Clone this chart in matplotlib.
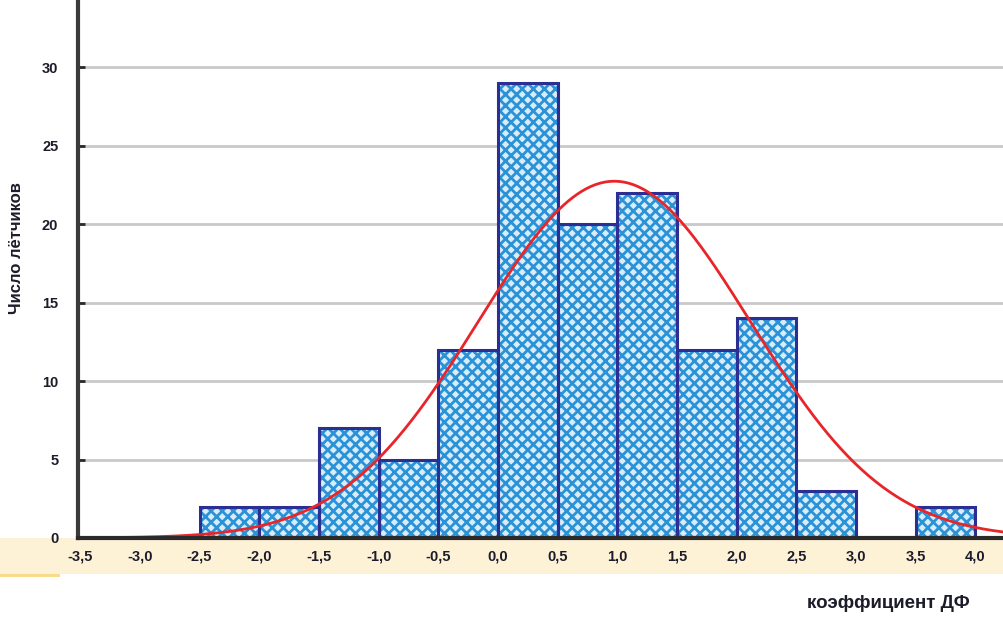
import numpy as np
import matplotlib.pyplot as plt
from matplotlib.patches import Rectangle

# histogram bins and counts
bin_left = [-2.5, -2.0, -1.5, -1.0, -0.5, 0.0, 0.5, 1.0, 1.5, 2.0, 2.5, 3.0, 3.5]
counts = [2, 2, 7, 5, 12, 29, 20, 22, 12, 14, 3, 0, 2]
bin_width = 0.5

# fitted normal curve
mu = 0.975
sigma = 1.14
n_total = sum(counts)

xticks = [-3.5, -3.0, -2.5, -2.0, -1.5, -1.0, -0.5, 0.0, 0.5, 1.0, 1.5, 2.0, 2.5, 3.0, 3.5, 4.0]
yticks = [0, 5, 10, 15, 20, 25, 30]

plt.rcParams['font.family'] = ['Liberation Sans Narrow', 'Liberation Sans', 'DejaVu Sans']
plt.rcParams['hatch.linewidth'] = 2.0

fig = plt.figure(figsize=(10.04, 6.19), dpi=100)
# pale yellow band under the axis
fig.patches.append(Rectangle((0, 0.072), 1, 0.059, transform=fig.transFigure,
                             facecolor='#fdf1d6', edgecolor='none', zorder=-2))
fig.patches.append(Rectangle((0, 0.068), 0.06, 0.005, transform=fig.transFigure,
                             facecolor='#f8dc8c', edgecolor='none', zorder=-2))

ax = fig.add_axes([0.0775, 0.1309, 0.9225, 0.8691])

for y in yticks[1:] + [35]:
    ax.axhline(y, color='#c9c9c9', lw=2, zorder=1)

# hatched fill, then dark outline
ax.bar(bin_left, counts, width=bin_width, align='edge', color='#d8ecf9',
       edgecolor='#2a93d8', hatch='xxx', linewidth=0, zorder=2)
ax.bar(bin_left, counts, width=bin_width, align='edge', fill=False,
       edgecolor='#2b2e92', linewidth=2.2, zorder=3)

xs = np.linspace(-3.5, 4.3, 400)
ys = n_total * bin_width / (sigma * np.sqrt(2 * np.pi)) * np.exp(-0.5 * ((xs - mu) / sigma) ** 2)
ax.plot(xs, ys, color='#e8262a', lw=2, zorder=4)

for s in ['top', 'right']:
    ax.spines[s].set_visible(False)
ax.spines['left'].set_color('#3a3a3a')
ax.spines['left'].set_linewidth(3)
ax.spines['bottom'].set_color('#2a2a2a')
ax.spines['bottom'].set_linewidth(3)
ax.spines['bottom'].set_zorder(5)

ax.set_xticks(xticks)
ax.set_xticklabels([f'{v:.1f}'.replace('.', ',') for v in xticks],
                   fontsize=10.5, fontweight='bold', color='#1c1c2a')
ax.set_yticks(yticks)
ax.set_yticklabels([str(v) for v in yticks], fontsize=10.5, fontweight='bold', color='#1c1c2a')
ax.tick_params(axis='y', direction='in', length=5, width=2, color='#2a2a2a', pad=14)
ax.tick_params(axis='x', length=0, pad=8)

ax.set_xlim(-3.52, 4.24)
ax.set_ylim(0, 34.3)

fig.text(0.016, 0.6, 'Число лётчиков', rotation=90, ha='center', va='center',
         fontsize=12, fontweight='bold', color='#1c1c2a')
fig.text(0.885, 0.025, 'коэффициент ДФ', ha='center', va='center',
         fontsize=13.5, fontweight='bold', color='#1c1c2a')

fig.savefig('out.png', dpi=100)
